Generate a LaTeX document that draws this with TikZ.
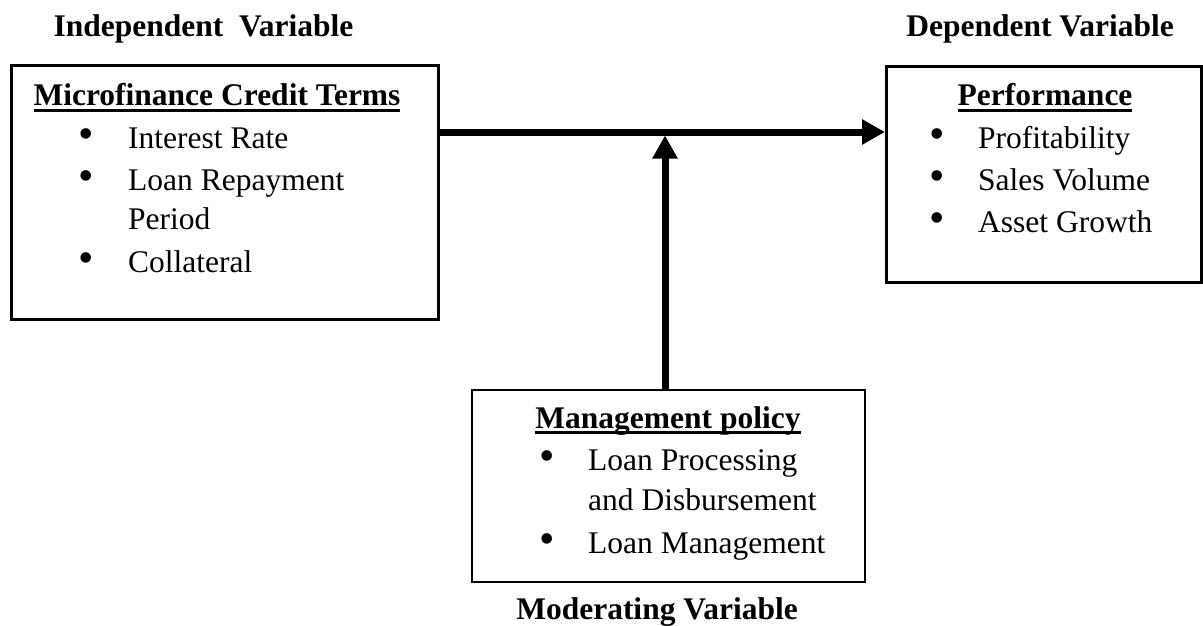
\documentclass[tikz,border=0pt]{standalone}
\usepackage{fontspec}
\setmainfont{Liberation Serif}
\usetikzlibrary{arrows.meta}
\newcommand\myul[1]{\setbox0\hbox{#1}\rlap{\rule[-6pt]{\wd0}{3pt}}\box0}
\begin{document}
\begin{tikzpicture}[x=1pt,y=-1pt,
  txt/.style={font=\fontsize{31.5}{38}\selectfont, inner sep=0pt, anchor=base west},
  head/.style={font=\fontsize{31.5}{38}\selectfont\bfseries, inner sep=0pt, anchor=base},
  bul/.style={font=\fontsize{44}{46}\selectfont, inner sep=0pt, anchor=center},
  box/.style={draw, line width=3pt, anchor=north west, inner sep=0pt},
  mbox/.style={draw, line width=1.5pt, anchor=north west, inner sep=0pt},
  conn/.style={line width=7pt, -{Triangle[length=23pt,width=24pt]}}]
\useasboundingbox (0,0) rectangle (1203,626);

% titles
\node[head] (tiv) at (203.5,37) {Independent\ \ Variable};
\node[head] (tdv) at (1040,37) {Dependent Variable};
\node[head] (tmv) at (657,619) {Moderating Variable};

% boxes
\node[box, minimum width=427pt, minimum height=254pt] (iv) at (10,64) {};
\node[box, minimum width=315pt, minimum height=216pt] (dv) at (885,65) {};
\node[mbox, minimum width=393pt, minimum height=192pt] (mv) at (471,389) {};

% independent content
\node[head] (ivh) at (217,106) {\myul{Microfinance Credit Terms}};
\node[bul] (ivb1) at (86,139) {•};
\node[txt] (ivt1) at (128,148) {Interest Rate};
\node[bul] (ivb2) at (86,181) {•};
\node[txt] (ivt2) at (128,190) {Loan Repayment};
\node[txt] (ivt3) at (128,229) {Period};
\node[bul] (ivb3) at (86,263) {•};
\node[txt] (ivt4) at (128,272) {Collateral};

% dependent content
\node[head] (dvh) at (1045,106) {\myul{Performance}};
\node[bul] (dvb1) at (937,139) {•};
\node[txt] (dvt1) at (978,148) {Profitability};
\node[bul] (dvb2) at (937,181) {•};
\node[txt] (dvt2) at (978,190) {Sales Volume};
\node[bul] (dvb3) at (937,223) {•};
\node[txt] (dvt3) at (978,232) {Asset Growth};

% moderating content
\node[head] (mvh) at (668,428) {\myul{Management policy}};
\node[bul] (mvb1) at (547,461) {•};
\node[txt] (mvt1) at (588,470) {Loan Processing};
\node[txt] (mvt2) at (588,510) {and Disbursement};
\node[bul] (mvb2) at (547,544) {•};
\node[txt] (mvt3) at (588,553) {Loan Management};

% connectors
\coordinate (hj) at (665,132);
\coordinate (hjb) at (665,135.5);
\draw[conn] (iv.east |- hj) -- (dv.west |- hj);
\draw[conn] (hjb |- mv.north) -- (hjb);
\end{tikzpicture}
\end{document}
